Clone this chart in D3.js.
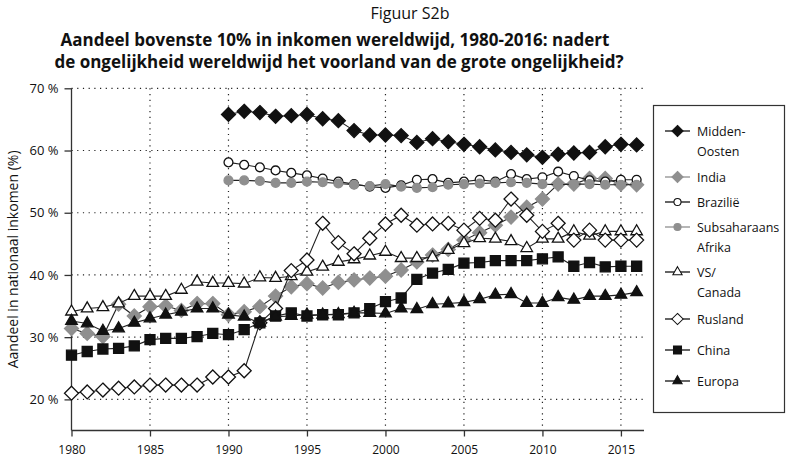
<!DOCTYPE html>
<html>
<head>
<meta charset="utf-8">
<script src="https://cdn.jsdelivr.net/npm/d3@7"></script>
<style>
  body { margin: 0; background: #fff; }
  text { font-family: "Open Sans", "Noto Sans", sans-serif; fill: #111; }
</style>
</head>
<body>
<div id="chart"></div>
<script>
// data (share of top 10%, in %)
var years = d3.range(1980, 2017)
var yearsFrom1990 = d3.range(1990, 2017)

var middenOosten = [65.8, 66.3, 66.1, 65.5, 65.6, 65.8, 65.1, 64.8, 63.2, 62.5, 62.5, 62.4, 61.3, 61.9, 61.4, 61.0, 60.6, 60.1, 59.7, 59.3, 58.9, 59.4, 59.6, 59.7, 60.6, 61.0, 60.9]
var india = [31.4, 30.6, 30.1, 35.3, 33.4, 34.9, 35.0, 34.3, 35.4, 35.4, 33.6, 34.1, 34.9, 36.6, 38.1, 38.6, 37.9, 38.8, 39.2, 39.5, 39.8, 40.8, 42.1, 43.2, 44.1, 45.6, 46.8, 48.0, 49.3, 50.9, 52.2, 54.6, 54.6, 55.5, 55.5, 54.6, 54.5]
var brazilie = [58.1, 57.7, 57.3, 56.8, 56.4, 56.0, 55.5, 55.0, 54.6, 54.2, 54.0, 54.4, 55.3, 55.4, 54.8, 55.0, 55.3, 55.0, 56.2, 55.4, 55.7, 56.6, 55.9, 55.2, 55.0, 55.3, 55.3]
var subsahara = [55.2, 55.2, 55.1, 54.8, 54.8, 55.0, 54.9, 54.7, 54.5, 54.3, 54.6, 54.2, 54.0, 54.1, 54.5, 54.6, 54.7, 54.8, 54.9, 54.8, 54.6, 54.5, 54.6, 54.6, 54.5, 54.5, 54.5]
var vsCanada = [34.1, 34.6, 34.8, 35.4, 36.6, 36.6, 36.6, 37.6, 38.9, 38.7, 38.7, 38.6, 39.6, 39.5, 39.8, 40.5, 41.3, 42.1, 42.5, 43.1, 43.7, 42.7, 42.7, 42.8, 44.0, 45.1, 45.9, 45.8, 45.4, 44.3, 45.8, 45.8, 47.0, 46.3, 47.0, 47.0, 47.0]
var rusland = [21.0, 21.2, 21.5, 21.8, 22.0, 22.3, 22.3, 22.3, 22.3, 23.6, 23.6, 24.6, 32.3, 34.6, 40.7, 42.4, 48.3, 45.2, 43.4, 45.9, 48.2, 49.6, 48.0, 48.2, 48.3, 47.2, 49.1, 48.8, 52.2, 49.6, 47.0, 48.3, 45.6, 47.2, 45.6, 45.6, 45.6]
var china = [27.1, 27.7, 28.1, 28.2, 28.6, 29.6, 29.8, 29.8, 30.1, 30.6, 30.4, 31.2, 32.3, 33.4, 33.9, 33.4, 33.6, 33.6, 33.9, 34.6, 35.7, 36.3, 39.3, 40.3, 40.9, 41.9, 42.0, 42.3, 42.3, 42.3, 42.6, 42.9, 41.4, 42.0, 41.3, 41.4, 41.4]
var europa = [32.6, 32.2, 31.0, 31.4, 32.3, 33.0, 33.6, 34.1, 34.6, 34.6, 33.6, 33.3, 32.3, 33.3, 33.4, 33.6, 33.6, 33.7, 33.9, 33.9, 33.8, 34.6, 34.5, 35.3, 35.4, 35.6, 36.1, 36.8, 36.9, 35.5, 35.5, 36.4, 36.0, 36.6, 36.6, 36.8, 37.2]

var yTicks = [20, 30, 40, 50, 60, 70]
var xTicks = [1980, 1985, 1990, 1995, 2000, 2005, 2010, 2015]

var grey = "#8f8f8f"
var series = [
  {name: ["Midden-", "Oosten"], x: yearsFrom1990, y: middenOosten, shape: "diamond", fill: "#111", stroke: "#111", legendLine: "#111"},
  {name: ["India"], x: years, y: india, shape: "diamond", fill: grey, stroke: grey, legendLine: grey},
  {name: ["Brazilië"], x: yearsFrom1990, y: brazilie, shape: "circle", fill: "#fff", stroke: "#111", legendLine: "#111"},
  {name: ["Subsaharaans", "Afrika"], x: yearsFrom1990, y: subsahara, shape: "circle", fill: grey, stroke: grey, legendLine: grey},
  {name: ["VS/", "Canada"], x: years, y: vsCanada, shape: "triangle", fill: "#fff", stroke: "#111", legendLine: "#111"},
  {name: ["Rusland"], x: years, y: rusland, shape: "diamond", fill: "#fff", stroke: "#111", legendLine: "#111"},
  {name: ["China"], x: years, y: china, shape: "square", fill: "#111", stroke: "#111", legendLine: "#111"},
  {name: ["Europa"], x: years, y: europa, shape: "triangle", fill: "#111", stroke: "#111", legendLine: "#111"}
]

var width = 786, height = 467
var svg = d3.select("#chart").append("svg")
    .attr("width", width).attr("height", height)
svg.append("rect").attr("width", width).attr("height", height).style("fill", "#fff")

var plotLeft = 71.5, plotRight = 644, plotTop = 88.3, plotBottom = 430.5

var x = d3.scaleLinear().domain([1980, 2016.47]).range([plotLeft, plotRight])
var y = d3.scaleLinear().domain([15, 70]).range([plotBottom, plotTop])

// titles
svg.append("text").attr("x", 410).attr("y", 19).attr("text-anchor", "middle")
    .style("font-size", "16px").text("Figuur S2b")
svg.append("text").attr("x", 335).attr("y", 46).attr("text-anchor", "middle")
    .style("font-size", "17px").style("font-weight", "bold")
    .text("Aandeel bovenste 10% in inkomen wereldwijd, 1980-2016: nadert")
svg.append("text").attr("x", 339).attr("y", 68).attr("text-anchor", "middle")
    .style("font-size", "17px").style("font-weight", "bold")
    .text("de ongelijkheid wereldwijd het voorland van de grote ongelijkheid?")

// dotted grid
var grid = svg.append("g")
grid.selectAll(".hg").data(yTicks).enter().append("line")
    .attr("x1", plotLeft).attr("x2", plotRight)
    .attr("y1", d => y(d)).attr("y2", d => y(d))
    .style("stroke", "#222").style("stroke-width", 1.2).style("stroke-dasharray", "1.2,4.5")
grid.selectAll(".vg").data(xTicks.slice(1)).enter().append("line")
    .attr("x1", d => x(d)).attr("x2", d => x(d))
    .attr("y1", plotTop).attr("y2", plotBottom)
    .style("stroke", "#222").style("stroke-width", 1.2).style("stroke-dasharray", "1.2,4.5")

// axes
var yAxis = svg.append("g").attr("transform", "translate(" + plotLeft + ",0)")
    .call(d3.axisLeft(y).tickValues(yTicks).tickSize(7).tickPadding(6).tickFormat(d => d + " %"))
yAxis.select(".domain").attr("d", "M0," + plotTop + "V" + plotBottom)
yAxis.selectAll("text").style("font-size", "13px").style("font-family", "'Open Sans', sans-serif")

var xAxis = svg.append("g").attr("transform", "translate(0," + plotBottom + ")")
    .call(d3.axisBottom(x).tickValues(xTicks).tickSize(6).tickPadding(9).tickFormat(d3.format("d")))
xAxis.select(".domain").attr("d", "M" + plotLeft + ",0H" + plotRight)
xAxis.selectAll("text").style("font-size", "12px").style("font-family", "'Open Sans', sans-serif")
svg.selectAll(".domain, .tick line").style("stroke", "#333").style("stroke-width", 1.3)

svg.append("text")
    .attr("transform", "translate(18," + ((plotTop + plotBottom) / 2) + ") rotate(-90)")
    .attr("text-anchor", "middle").style("font-size", "14px")
    .text("Aandeel in nationaal inkomen (%)")

// markers
function markerPath(shape) {
  if (shape === "diamond") return "M0,-7L7,0L0,7L-7,0Z"
  if (shape === "square") return "M-5,-5H5V5H-5Z"
  if (shape === "triangle") return d3.symbol(d3.symbolTriangle, 58)()
  return d3.symbol(d3.symbolCircle, 62)()
}

var line = d3.line()
series.forEach(function(s) {
  var pts = s.x.map((yr, i) => [x(yr), y(s.y[i])])
  var g = svg.append("g")
  g.append("path").attr("d", line(pts))
      .style("fill", "none").style("stroke", "#222").style("stroke-width", 1.1)
  g.selectAll("path.m").data(pts).enter().append("path").attr("class", "m")
      .attr("d", markerPath(s.shape))
      .attr("transform", d => "translate(" + d[0] + "," + d[1] + ")")
      .style("fill", s.fill).style("stroke", s.stroke).style("stroke-width", 1.3)
})

// legend
var legend = svg.append("g")
legend.append("rect").attr("x", 653.5).attr("y", 105.5).attr("width", 131).attr("height", 307)
    .style("fill", "#fff").style("stroke", "#333").style("stroke-width", 1.2)
var legendY = [131, 177, 202, 227, 272, 319, 350, 381]
series.forEach(function(s, i) {
  var ly = legendY[i]
  legend.append("line").attr("x1", 665).attr("x2", 690).attr("y1", ly).attr("y2", ly)
      .style("stroke", s.legendLine).style("stroke-width", 1.3)
  legend.append("path").attr("d", markerPath(s.shape))
      .attr("transform", "translate(677.5," + ly + ") scale(0.8)")
      .style("fill", s.fill).style("stroke", s.stroke).style("stroke-width", 1.3)
  s.name.forEach(function(t, j) {
    legend.append("text").attr("x", 697).attr("y", ly + 5 + j * 20)
        .style("font-size", "12.5px").text(t)
  })
})
</script>
</body>
</html>
